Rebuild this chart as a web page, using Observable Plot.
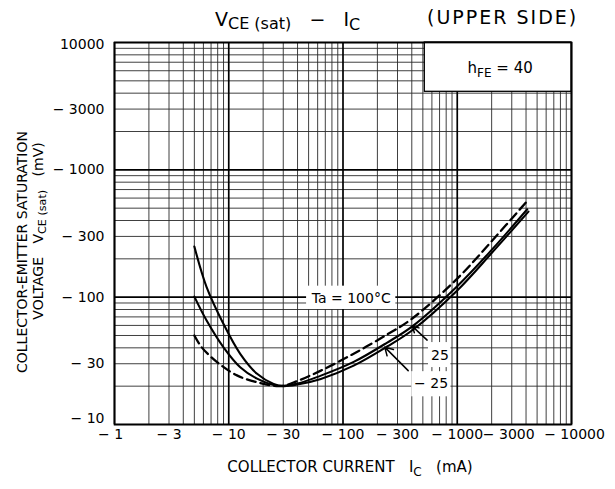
<!DOCTYPE html>
<html><head><meta charset="utf-8">
<script src="https://cdn.jsdelivr.net/npm/d3@7"></script>
<script src="https://cdn.jsdelivr.net/npm/@observablehq/plot@0.6"></script>
<style>body{margin:0;background:#fff} svg{display:block}</style>
</head><body><div id="chart"></div>
<script>
// Data (Ic in mA, VCE(sat) in mV, magnitudes; labels carry the minus sign)
const icM25 = [5, 6.4, 9, 12.6, 17.7, 24.7, 30, 40, 64, 124, 244, 404, 1000, 2000, 4200];
const vM25  = [250, 120, 61.6, 35.9, 25, 20.8, 20, 20.6, 22.8, 29, 41, 55, 113, 222, 470];
const ic25  = [5, 6.4, 9, 12.6, 17.7, 26.4, 40, 64, 124, 244, 404, 1000, 2000, 4100];
const v25   = [101, 65.6, 40.4, 28.2, 22.9, 20.2, 21, 24.2, 31, 44, 59, 122, 235, 490];
const ic100 = [5, 5.8, 7.9, 11.8, 17.7, 28.3, 40, 64, 124, 244, 404, 1000, 2000, 4000];
const v100  = [50, 40.4, 30.9, 24.3, 21.5, 20, 22, 26.5, 36, 51, 68, 140, 275, 556];

const xTicks  = [1, 3, 10, 30, 100, 300, 1000, 3000, 10000];
const xLabels = ["\u2212 1", "\u2212 3", "\u2212 10", "\u2212 30", "\u2212 100", "\u2212 300", "\u2212 1000", "\u2212 3000", "\u2212 10000"];
const yTicks  = [10, 30, 100, 300, 1000, 3000, 10000];
const yLabels = ["\u2212 10", "\u2212 30", "\u2212 100", "\u2212 300", "\u2212 1000", "\u2212 3000", "10000"];

const xDecades = [1, 10, 100, 1000, 10000];
const yDecades = [10, 100, 1000, 10000];
const xMinor = [2,3,4,5,6,7,8,9, 20,30,40,50,60,70,80,90, 200,300,400,500,600,700,800,900, 2000,3000,4000,5000,6000,7000,8000,9000];
const yMinor = [20,30,40,50,60,70,80,90, 200,300,400,500,600,700,800,900, 2000,3000,4000,5000,6000,7000,8000,9000];

// annotations (data coordinates)
const hfeBox = {x1: 520, x2: 10000, y1: 4100, y2: 10000};
const taBox  = {x1: 48, x2: 290, y1: 80, y2: 122, x: 118, y: 98, text: "Ta = 100°C"};
const lab25  = {x1: 560, x2: 880, y1: 28, y2: 44, x: 705, y: 35, text: "25"};
const labM25 = {x1: 400, x2: 880, y1: 16.5, y2: 26, x: 590, y: 21, text: "\u2212 25"};
const arrows = [
  {x1: 545, y1: 46, x2: 405, y2: 59},
  {x1: 372, y1: 26.5, x2: 232, y2: 40.5}
];

const rows = (ic, v) => ic.map((d, i) => ({ic: d, v: v[i]}));
const font = "'DejaVu Sans', 'Noto Sans', sans-serif";
const xl = xTicks.map((d, i) => ({v: d, t: xLabels[i]}));
const yl = yTicks.map((d, i) => ({v: d, t: yLabels[i]}));
const tfs = 14;

const chart = Plot.plot({
  width: 615, height: 489,
  marginLeft: 114, marginRight: 44, marginTop: 42, marginBottom: 65,
  style: {fontFamily: font, background: "#fff"},
  x: {type: "log", domain: [1, 10000], axis: null},
  y: {type: "log", domain: [10, 10000], axis: null},
  marks: [
    Plot.ruleX(xMinor, {stroke: "#2a2a2a", strokeWidth: 0.9}),
    Plot.ruleY(yMinor, {stroke: "#2a2a2a", strokeWidth: 0.9}),
    Plot.ruleX(xDecades, {stroke: "#000", strokeWidth: 1.7}),
    Plot.ruleY(yDecades, {stroke: "#000", strokeWidth: 1.7}),
    Plot.rect([hfeBox], {x1: "x1", x2: "x2", y1: "y1", y2: "y2", fill: "#fff", stroke: "#000", strokeWidth: 1.3}),
    Plot.rect([taBox, lab25, labM25], {x1: "x1", x2: "x2", y1: "y1", y2: "y2", fill: "#fff"}),
    Plot.line(rows(icM25, vM25), {x: "ic", y: "v", stroke: "#000", strokeWidth: 2.1, curve: "catmull-rom"}),
    Plot.line(rows(ic25, v25), {x: "ic", y: "v", stroke: "#000", strokeWidth: 2.1, curve: "catmull-rom"}),
    Plot.line(rows(ic100, v100), {x: "ic", y: "v", stroke: "#000", strokeWidth: 2.3, strokeDasharray: "9,5", curve: "catmull-rom"}),
    Plot.arrow(arrows, {x1: "x1", y1: "y1", x2: "x2", y2: "y2", stroke: "#000", strokeWidth: 1.5, headLength: 9, bend: 0}),
    Plot.text([taBox, lab25, labM25], {x: "x", y: "y", text: "text", fontSize: 14, fill: "#000"}),
    Plot.frame({stroke: "#000", strokeWidth: 1.7}),
    // x tick labels
    Plot.text(xl.slice(1, 7), {x: "v", text: "t", frameAnchor: "bottom", dy: 14, fontSize: tfs, fill: "#000"}),
    Plot.text(xl.slice(0, 1), {x: "v", text: "t", frameAnchor: "bottom", dy: 14, dx: -4, fontSize: tfs, fill: "#000"}),
    Plot.text(xl.slice(7, 8), {x: "v", text: "t", frameAnchor: "bottom", dy: 14, dx: -3, fontSize: tfs, fill: "#000"}),
    Plot.text(xl.slice(8), {x: "v", text: "t", frameAnchor: "bottom", dy: 14, dx: 3, fontSize: tfs, fill: "#000"}),
    // y tick labels
    Plot.text(yl.slice(1, 6), {y: "v", text: "t", frameAnchor: "left", dx: -10, textAnchor: "end", fontSize: tfs, fill: "#000"}),
    Plot.text(yl.slice(0, 1), {y: "v", text: "t", frameAnchor: "left", dx: -10, dy: -6, textAnchor: "end", fontSize: tfs, fill: "#000"}),
    Plot.text(yl.slice(6), {y: "v", text: "t", frameAnchor: "left", dx: -10, dy: 2, textAnchor: "end", fontSize: tfs, fill: "#000"})
  ]
});

document.getElementById("chart").appendChild(chart);

const svg = d3.select(chart);
const sx = chart.scale("x"), sy = chart.scale("y");

function subText(g, x, y, parts, size, anchor) {
  const t = g.append("text").attr("x", x).attr("y", y)
    .attr("font-family", font).attr("font-size", size).attr("fill", "#000")
    .attr("text-anchor", anchor || "start");
  parts.forEach(p => {
    const ts = t.append("tspan").text(p.t);
    if (p.sub) ts.attr("font-size", p.size || size * 0.8).attr("dy", p.dy || 4);
    if (p.up) ts.attr("dy", -(p.up));
  });
  return t;
}

// Title
subText(svg, 215, 26, [{t: "V"}, {t: "CE (sat)", sub: true, dy: 3, size: 16}, {t: "   \u2212   ", up: 3}, {t: "I"}, {t: "C", sub: true, dy: 4, size: 16}], 19);
svg.append("text").attr("x", 427).attr("y", 24).attr("text-anchor", "start")
  .attr("font-family", font).attr("font-size", 19).attr("fill", "#000")
  .attr("letter-spacing", 2).text("(UPPER SIDE)");

// hFE label
subText(svg, sx.apply(2400), sy.apply(6400) + 6, [{t: "h"}, {t: "FE", sub: true, dy: 4}, {t: " = 40", up: 4}], 15, "middle");

// X axis title
subText(svg, 350, 472, [{t: "COLLECTOR CURRENT   I"}, {t: "C", sub: true, dy: 4}, {t: "   (mA)", up: 4}], 15, "middle");

// Y axis title (two rotated lines)
const gy1 = svg.append("g").attr("transform", "translate(27,252) rotate(-90)");
gy1.append("text").attr("x", 0).attr("y", 0).attr("text-anchor", "middle")
  .attr("font-family", font).attr("font-size", 14).attr("fill", "#000")
  .text("COLLECTOR-EMITTER SATURATION");
const gy2 = svg.append("g").attr("transform", "translate(43,231) rotate(-90)");
subText(gy2, 0, 0, [{t: "VOLTAGE   V"}, {t: "CE (sat)", sub: true, dy: 3}, {t: "   (mV)", up: 3}], 14, "middle");
</script>
</body></html>
